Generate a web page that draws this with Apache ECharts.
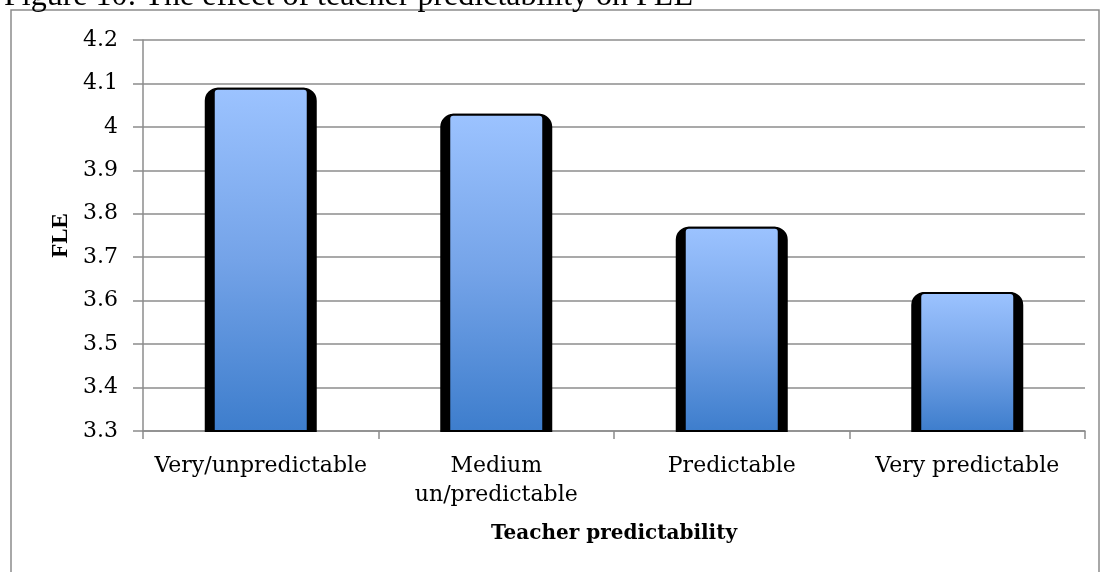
<!DOCTYPE html>
<html>
<head>
<meta charset="utf-8">
<script src="https://cdn.jsdelivr.net/npm/echarts@6/dist/echarts.min.js"></script>
<style>
  html, body { margin: 0; padding: 0; background: #fff; }
  #chart { width: 1104px; height: 572px; }
</style>
</head>
<body>
<div id="chart"></div>
<script>
var categories = ['Very/unpredictable', 'Medium\nun/predictable', 'Predictable', 'Very predictable'];
var fleValues = [4.09, 4.03, 3.77, 3.62];
var yTicks = { min: 3.3, max: 4.2, step: 0.1 };

var serif = '"DejaVu Serif", "Liberation Serif", serif';
var titleFont = '"Liberation Serif", serif';
var chart = echarts.init(document.getElementById('chart'));

var baseAxis = {
    type: 'category',
    data: categories,
    axisLine: { lineStyle: { color: '#8c8c8c', width: 1.5 } },
    axisTick: { show: true, length: 8, lineStyle: { color: '#8c8c8c', width: 1.5 } },
    axisLabel: { interval: 0, color: '#000', fontFamily: serif, fontSize: 22, margin: 21, lineHeight: 29 }
};

chart.setOption({
    animation: false,
    title: {
        text: 'Figure 10: The effect of teacher predictability on FLE',
        left: -1, top: -24,
        textStyle: { fontFamily: titleFont, fontSize: 32, fontWeight: 'normal', color: '#000' }
    },
    graphic: [{
        type: 'rect',
        shape: { x: 11, y: 10, width: 1088, height: 600 },
        style: { fill: 'none', stroke: '#8c8c8c', lineWidth: 1.5 },
        silent: true
    }],
    grid: { left: 143, right: 19, top: 40, bottom: 141 },
    xAxis: [
        Object.assign({}, baseAxis, {
            name: 'Teacher predictability',
            nameLocation: 'middle',
            nameGap: 93,
            nameTextStyle: { fontFamily: serif, fontSize: 20, fontWeight: 'bold', color: '#000' }
        }),
        Object.assign({}, baseAxis, { show: false })
    ],
    yAxis: {
        type: 'value',
        min: yTicks.min, max: yTicks.max, interval: yTicks.step,
        name: 'FLE',
        nameLocation: 'middle',
        nameGap: 70,
        nameTextStyle: { fontFamily: titleFont, fontSize: 23, fontWeight: 'bold', color: '#000' },
        axisLine: { show: true, lineStyle: { color: '#8c8c8c', width: 1.5 } },
        axisTick: { show: true, length: 10, lineStyle: { color: '#8c8c8c', width: 1.5 } },
        splitLine: { lineStyle: { color: '#8c8c8c', width: 1.5 } },
        axisLabel: {
            color: '#000', fontFamily: serif, fontSize: 22, margin: 25,
            formatter: function (v) { return String(Math.round(v * 10) / 10); }
        }
    },
    series: [{
        // black frame behind each bar
        type: 'bar',
        xAxisIndex: 1,
        data: fleValues,
        barWidth: 112,
        silent: true,
        itemStyle: { color: '#000', borderColor: '#000', borderWidth: 2, borderRadius: [12, 12, 0, 0] },
        z: 1
    }, {
        name: 'FLE',
        type: 'bar',
        xAxisIndex: 0,
        data: fleValues,
        barWidth: 96,
        itemStyle: {
            borderRadius: [4, 4, 0, 0],
            borderColor: '#000',
            borderWidth: 2,
            color: new echarts.graphic.LinearGradient(0, 0, 0, 1, [
                { offset: 0, color: '#9cc3ff' },
                { offset: 0.5, color: '#74a3e8' },
                { offset: 1, color: '#3d7dcc' }
            ])
        },
        z: 2
    }]
});
</script>
</body>
</html>
